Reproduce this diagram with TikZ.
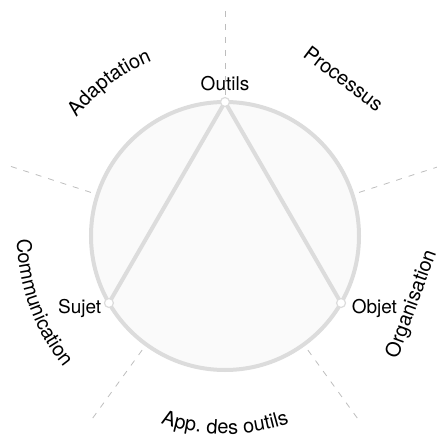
\documentclass[tikz,border=0pt]{standalone}
\usepackage{fontspec}
\setmainfont{TeX Gyre Heros}
\usepackage{graphicx}
\usepackage{tikz}
\usetikzlibrary{positioning, decorations.text}

\definecolor{ringgray}{HTML}{DCDCDC}
\definecolor{discfill}{HTML}{FAFAFA}
\definecolor{spokegray}{HTML}{BDBDBD}

\begin{document}
\begin{tikzpicture}[
        disc/.style={circle, draw=ringgray, line width=4pt, fill=discfill, minimum size=268pt, inner sep=0pt, outer sep=0pt},
        vertex/.style={circle, draw=ringgray, line width=1.2pt, fill=white, minimum size=9pt, inner sep=0pt, outer sep=0pt},
        side/.style={draw=ringgray, line width=4pt},
        spoke/.style={draw=spokegray, line width=0.8pt, dash pattern=on 6pt off 7pt},
        vlabel/.style={font=\fontsize{19}{22}\selectfont, inner sep=1pt},
        arclabel/.style={decorate, decoration={text along path, text align=center, text={|\fontsize{20}{24}\selectfont|#1}}},
        tiltlabel/.style={font=\fontsize{20}{24}\selectfont, inner sep=0pt, anchor=base, rotate=#1},
        boxlabel/.style={font=\fontsize{20}{24}\selectfont, inner sep=0pt}
    ]

    \useasboundingbox (-225pt,-202pt) rectangle (211pt,236pt);

    % Disc and spokes
    \node[disc] (ring) at (0pt,0pt) {};
    \foreach \a in {90,18,-54,-126,162}
        \draw[spoke] (\a:225pt) -- (\a:137pt);

    % Triangle corners
    \coordinate (outils) at (ring.90);
    \coordinate (sujet) at (ring.210);
    \coordinate (objet) at (ring.-30);

    % Connections
    \draw[side] (sujet) -- (outils);
    \draw[side] (outils) -- (objet);

    % Nodes
    \node[vertex] (outilsdot) at (outils) {};
    \node[vertex] (sujetdot) at (sujet) {};
    \node[vertex] (objetdot) at (objet) {};
    \node[vlabel, above=5pt of outilsdot] (outilslbl) {Outils};
    \node[vlabel, left=2pt of sujetdot, yshift=-5pt] (sujetlbl) {Sujet};
    \node[vlabel, right=5pt of objetdot, yshift=-5pt] (objetlbl) {Objet};

    % Outer labels
    \path[arclabel=Adaptation] (172:190pt) arc[start angle=172, end angle=82, radius=190pt];
    \node[tiltlabel=-37] (processus) at (53:190pt) {Processus};
    \node[boxlabel] (organisation) at (-20:199pt) {\rotatebox{70}{Organisation}};
    \path[arclabel=App. des outils] (-135:198pt) arc[start angle=-135, end angle=-45, radius=198pt];
    \path[arclabel=Communication] (155:208pt) arc[start angle=155, end angle=245, radius=208pt];

\end{tikzpicture}
\end{document}
